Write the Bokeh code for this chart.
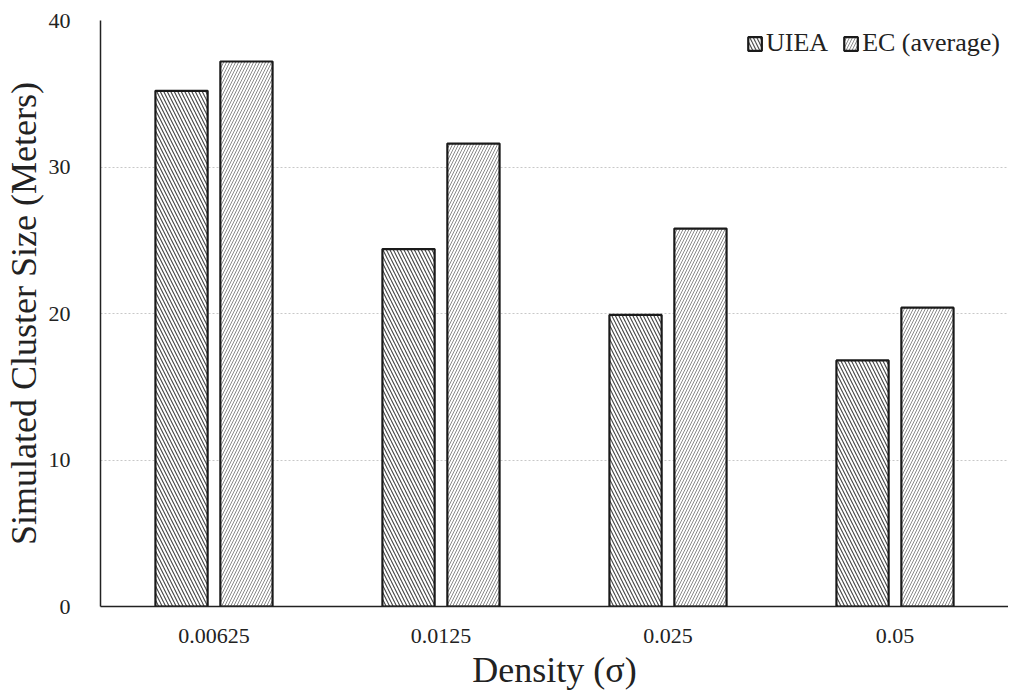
from bokeh.plotting import figure
from bokeh.models import FactorRange, Range1d, Legend, LegendItem, SingleIntervalTicker
from bokeh.transform import dodge
from bokeh.models import ColumnDataSource
from bokeh.embed import file_html
from bokeh.resources import INLINE

categories = ["0.00625", "0.0125", "0.025", "0.05"]
uiea = [35.2, 24.4, 19.9, 16.8]
ec_average = [37.2, 31.6, 25.8, 20.4]
series_names = ["UIEA", "EC (average)"]

source = ColumnDataSource(dict(cat=categories, uiea=uiea, ec=ec_average))

SERIF = "Liberation Serif"

p = figure(
    width=1008, height=692,
    x_range=FactorRange(factors=categories, range_padding=0),
    y_range=Range1d(0, 40),
    output_backend="svg", toolbar_location=None,
    min_border_left=88, min_border_top=20, min_border_right=0, min_border_bottom=80,
)
p.outline_line_color = None
p.background_fill_color = "white"

r1 = p.vbar(x=dodge("cat", -0.143, range=p.x_range), top="uiea", width=0.23, source=source,
            fill_color="white", line_color="#1a1a1a", line_width=2.2,
            hatch_pattern="\\", hatch_color="#444444", hatch_scale=7, hatch_weight=1.1)
r2 = p.vbar(x=dodge("cat", 0.143, range=p.x_range), top="ec", width=0.23, source=source,
            fill_color="white", line_color="#1a1a1a", line_width=2.2,
            hatch_pattern="/", hatch_color="#8a8a8a", hatch_scale=6, hatch_weight=1.0)

# grid
p.xgrid.grid_line_color = None
p.ygrid.grid_line_color = "#c8c8c8"
p.ygrid.grid_line_dash = "2 2"
p.ygrid.grid_line_width = 1
p.yaxis.ticker = SingleIntervalTicker(interval=10)

for ax in (p.xaxis, p.yaxis):
    ax.major_tick_line_color = None
    ax.minor_tick_line_color = None
    ax.major_tick_out = 0
    ax.major_tick_in = 0
    ax.axis_line_color = "#222222"
    ax.axis_line_width = 1.5
    ax.major_label_text_font = SERIF
    ax.major_label_text_color = "#222222"
    ax.axis_label_text_font = SERIF
    ax.axis_label_text_font_style = "normal"
    ax.axis_label_text_color = "#222222"
    ax.axis_label_text_font_size = "36px"

p.xaxis.major_label_text_font_size = "22px"
p.yaxis.major_label_text_font_size = "22px"
p.xaxis.major_label_standoff = 22
p.yaxis.major_label_standoff = 26
p.xaxis.axis_label = "Density (σ)"
p.yaxis.axis_label = "Simulated Cluster Size (Meters)"
p.xaxis.axis_label_standoff = 4
p.yaxis.axis_label_standoff = 2

legend = Legend(
    items=[LegendItem(label=series_names[0], renderers=[r1]),
           LegendItem(label=series_names[1], renderers=[r2])],
    orientation="horizontal", location="top_right",
    label_text_font=SERIF, label_text_font_size="26px", label_text_color="#222222",
    glyph_width=17, glyph_height=17, label_standoff=3, spacing=14,
    padding=2, margin=8, border_line_color=None, background_fill_alpha=0,
)
p.add_layout(legend)

open("out.html", "w").write(file_html(p, INLINE))
